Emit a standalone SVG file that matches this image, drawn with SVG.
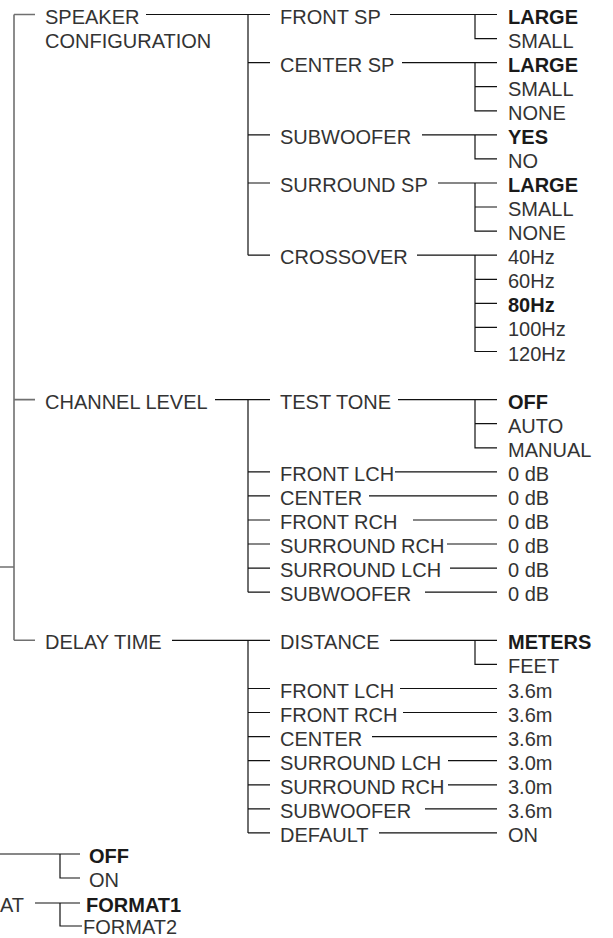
<svg xmlns="http://www.w3.org/2000/svg" width="613" height="938" viewBox="0 0 613 938">
<style>
text{font-family:"Liberation Sans",Arial,sans-serif;font-size:20px;fill:#333}
.b{font-weight:bold;fill:#1a1a1a}
.c path{fill:none;stroke:#111;stroke-width:1.2}
.c path.m{stroke:#707070;stroke-width:1.6}
</style>
<rect width="613" height="938" fill="#fff"/>
<g id="connectors" class="c">
<path class="m" d="M14,14.5V640.3M14,14.5H35M14,399.6H35M14,640.3H35M0,567H14"/>
<path d="M146,14.5H270M248,14.5V255.2M248,62.6H270M248,134.9H270M248,183H270M248,255.2H270"/>
<path d="M390,14.5H497M475,14.5V38.6H497"/>
<path d="M402,62.6H497M475,62.6V110.8H497M475,86.7H497"/>
<path d="M422,134.9H497M475,134.9V158.9H497"/>
<path d="M438,183H497M475,183V231.1H497M475,207H497"/>
<path d="M417,255.2H497M475,255.2V351.5H497M475,279.3H497M475,303.3H497M475,327.4H497"/>
<path d="M215,399.6H270M248,399.6V592.2M248,471.8H270M248,495.9H270M248,520H270M248,544H270M248,568.1H270M248,592.2H270"/>
<path d="M398,399.6H497M475,399.6V447.8H497M475,423.7H497"/>
<path d="M395,471.8H497M369,495.9H497M413,520H497M447,544H497M450,568.1H497M425,592.2H497"/>
<path d="M172,640.3H270M248,640.3V832.9M248,688.5H270M248,712.5H270M248,736.6H270M248,760.7H270M248,784.8H270M248,808.8H270M248,832.9H270"/>
<path d="M390,640.3H497M475,640.3V664.4H497"/>
<path d="M400,688.5H497M403,712.5H497M372,736.6H497M448,760.7H497M448,784.8H497M425,808.8H497M379,832.9H497"/>
<path d="M0,854H80M60,854V878H80M35,903H80M60,903V926H82"/>
</g>
<g id="speaker-configuration"><text x="45" y="23.5">SPEAKER</text><text x="45" y="47.6">CONFIGURATION</text></g>
<g id="channel-level"><text x="45" y="408.6">CHANNEL LEVEL</text></g>
<g id="delay-time"><text x="45" y="649.3">DELAY TIME</text></g>
<g id="front-sp"><text x="280" y="23.5">FRONT SP</text></g>
<g id="center-sp"><text x="280" y="71.6">CENTER SP</text></g>
<g id="subwoofer-sp"><text x="280" y="143.9">SUBWOOFER</text></g>
<g id="surround-sp"><text x="280" y="192">SURROUND SP</text></g>
<g id="crossover"><text x="280" y="264.2">CROSSOVER</text></g>
<g id="front-sp-opts"><text class="b" x="508" y="23.5">LARGE</text><text x="508" y="47.6">SMALL</text></g>
<g id="center-sp-opts"><text class="b" x="508" y="71.6">LARGE</text><text x="508" y="95.7">SMALL</text><text x="508" y="119.8">NONE</text></g>
<g id="subwoofer-opts"><text class="b" x="508" y="143.9">YES</text><text x="508" y="167.9">NO</text></g>
<g id="surround-sp-opts"><text class="b" x="508" y="192">LARGE</text><text x="508" y="216">SMALL</text><text x="508" y="240.1">NONE</text></g>
<g id="crossover-opts"><text x="508" y="264.2">40Hz</text><text x="508" y="288.3">60Hz</text><text class="b" x="508" y="312.3">80Hz</text><text x="508" y="336.4">100Hz</text><text x="508" y="360.5">120Hz</text></g>
<g id="test-tone"><text x="280" y="408.6">TEST TONE</text></g>
<g id="test-tone-opts"><text class="b" x="508" y="408.6">OFF</text><text x="508" y="432.7">AUTO</text><text x="508" y="456.8">MANUAL</text></g>
<g id="cl-front-lch"><text x="280" y="480.8">FRONT LCH</text><text x="508" y="480.8">0 dB</text></g>
<g id="cl-center"><text x="280" y="504.9">CENTER</text><text x="508" y="504.9">0 dB</text></g>
<g id="cl-front-rch"><text x="280" y="529">FRONT RCH</text><text x="508" y="529">0 dB</text></g>
<g id="cl-surround-rch"><text x="280" y="553">SURROUND RCH</text><text x="508" y="553">0 dB</text></g>
<g id="cl-surround-lch"><text x="280" y="577.1">SURROUND LCH</text><text x="508" y="577.1">0 dB</text></g>
<g id="cl-subwoofer"><text x="280" y="601.2">SUBWOOFER</text><text x="508" y="601.2">0 dB</text></g>
<g id="distance"><text x="280" y="649.3">DISTANCE</text><text class="b" x="508" y="649.3">METERS</text><text x="508" y="673.4">FEET</text></g>
<g id="dt-front-lch"><text x="280" y="697.5">FRONT LCH</text><text x="508" y="697.5">3.6m</text></g>
<g id="dt-front-rch"><text x="280" y="721.5">FRONT RCH</text><text x="508" y="721.5">3.6m</text></g>
<g id="dt-center"><text x="280" y="745.6">CENTER</text><text x="508" y="745.6">3.6m</text></g>
<g id="dt-surround-lch"><text x="280" y="769.7">SURROUND LCH</text><text x="508" y="769.7">3.0m</text></g>
<g id="dt-surround-rch"><text x="280" y="793.8">SURROUND RCH</text><text x="508" y="793.8">3.0m</text></g>
<g id="dt-subwoofer"><text x="280" y="817.8">SUBWOOFER</text><text x="508" y="817.8">3.6m</text></g>
<g id="dt-default"><text x="280" y="841.9">DEFAULT</text><text x="508" y="841.9">ON</text></g>
<g id="bottom-onoff"><text class="b" x="89" y="863">OFF</text><text x="89" y="887">ON</text></g>
<g id="bottom-format"><text x="0" y="912">AT</text><text class="b" x="86" y="912">FORMAT1</text><text x="83" y="934">FORMAT2</text></g>
</svg>
